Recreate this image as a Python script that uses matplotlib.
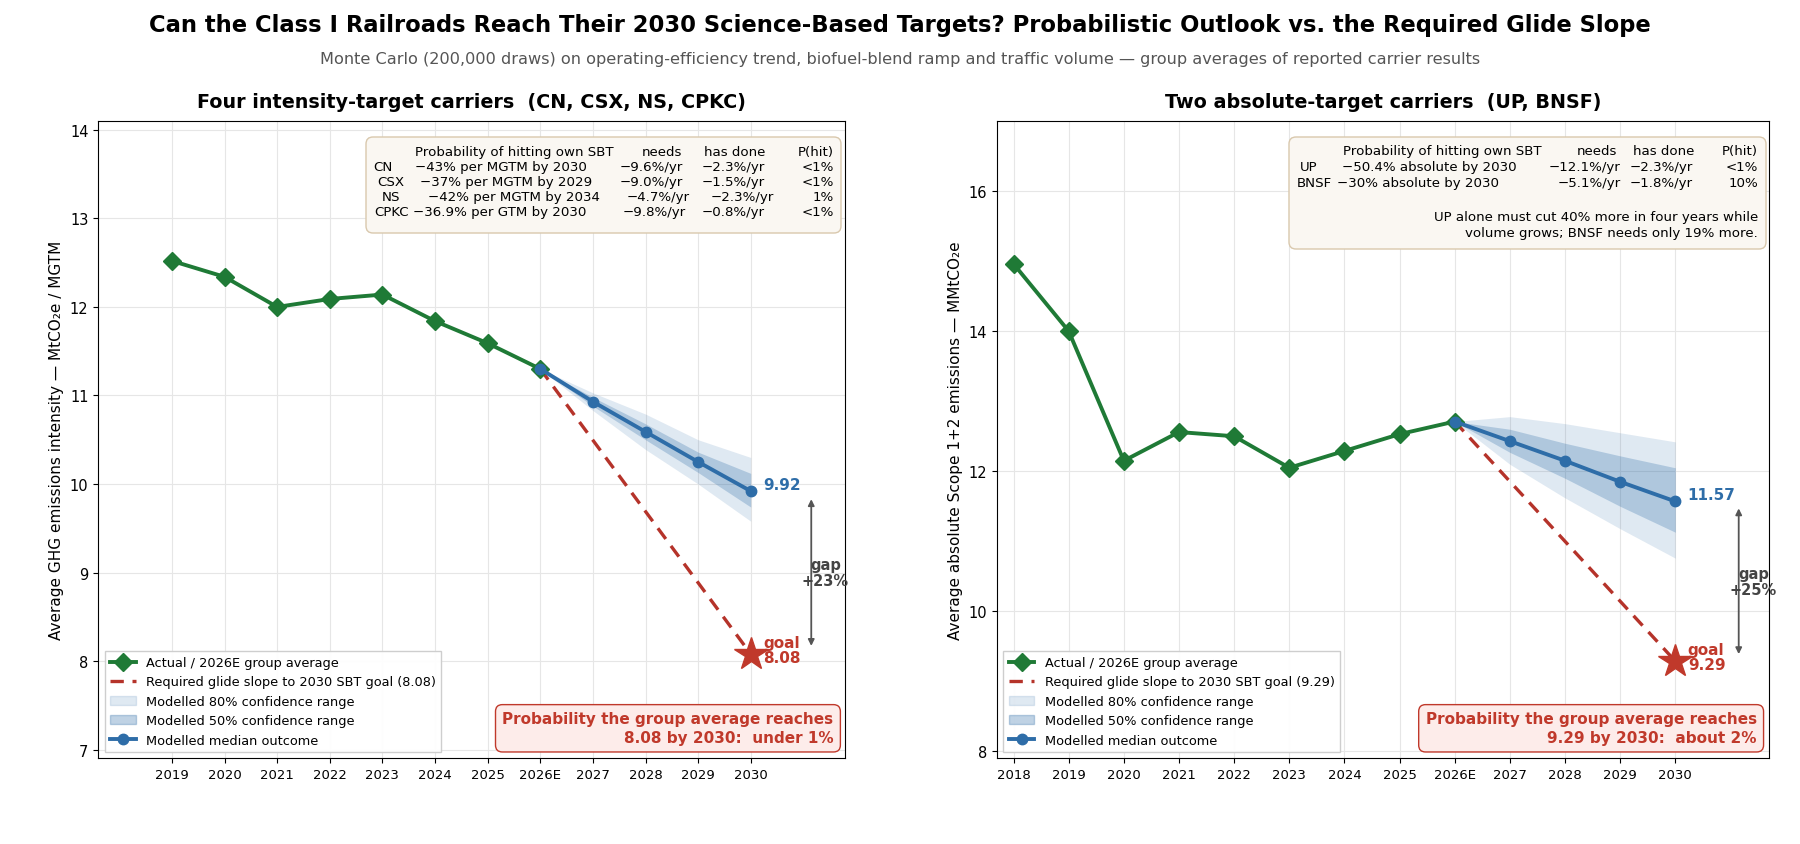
import matplotlib
matplotlib.use("Agg")
import matplotlib.pyplot as plt
from matplotlib.lines import Line2D
from matplotlib.patches import Patch, FancyBboxPatch
from matplotlib.transforms import IdentityTransform

# ---------------- data ----------------
L_years = [2019, 2020, 2021, 2022, 2023, 2024, 2025, 2026]
L_actual = [12.52, 12.34, 12.00, 12.09, 12.14, 11.84, 11.59, 11.30]
L_fyears = [2026, 2027, 2028, 2029, 2030]
L_median = [11.30, 10.93, 10.59, 10.25, 9.92]
L_p10 = [11.30, 10.83, 10.39, 10.00, 9.58]
L_p25 = [11.30, 10.88, 10.50, 10.13, 9.74]
L_p75 = [11.30, 10.98, 10.68, 10.36, 10.12]
L_p90 = [11.30, 11.03, 10.79, 10.50, 10.30]
L_goal = 8.08
L_ticks = [2019, 2020, 2021, 2022, 2023, 2024, 2025, 2026, 2027, 2028, 2029, 2030]
L_ticklabels = ["2019", "2020", "2021", "2022", "2023", "2024", "2025", "2026E",
                "2027", "2028", "2029", "2030"]

R_years = [2018, 2019, 2020, 2021, 2022, 2023, 2024, 2025, 2026]
R_actual = [14.96, 14.00, 12.15, 12.56, 12.50, 12.05, 12.29, 12.53, 12.71]
R_fyears = [2026, 2027, 2028, 2029, 2030]
R_median = [12.71, 12.43, 12.15, 11.85, 11.57]
R_p10 = [12.71, 12.10, 11.62, 11.18, 10.76]
R_p25 = [12.71, 12.27, 11.90, 11.50, 11.13]
R_p75 = [12.71, 12.60, 12.40, 12.22, 12.05]
R_p90 = [12.71, 12.78, 12.68, 12.55, 12.42]
R_goal = 9.29
R_ticks = [2018] + L_ticks
R_ticklabels = ["2018"] + L_ticklabels

TABLE_HEAD = ["Probability of hitting own SBT", "needs", "has done", "P(hit)"]
L_carriers = ["CN", "CSX", "NS", "CPKC"]
L_targets = ["−43% per MGTM by 2030", "−37% per MGTM by 2029",
             "−42% per MGTM by 2034", "−36.9% per GTM by 2030"]
L_needs = ["−9.6%/yr", "−9.0%/yr", "−4.7%/yr", "−9.8%/yr"]
L_done = ["−2.3%/yr", "−1.5%/yr", "−2.3%/yr", "−0.8%/yr"]
L_phit = ["<1%", "<1%", "1%", "<1%"]

R_carriers = ["UP", "BNSF"]
R_targets = ["−50.4% absolute by 2030", "−30% absolute by 2030"]
R_needs = ["−12.1%/yr", "−5.1%/yr"]
R_done = ["−2.3%/yr", "−1.8%/yr"]
R_phit = ["<1%", "10%"]
R_note = ["UP alone must cut 40% more in four years while",
          "volume grows; BNSF needs only 19% more."]

L_gap = "+23%"
R_gap = "+25%"
L_prob = "Probability the group average reaches\n8.08 by 2030:  under 1%"
R_prob = "Probability the group average reaches\n9.29 by 2030:  about 2%"

# ---------------- style ----------------
GREEN = "#1f7a36"
BLUE = "#2e6da8"
RED = "#b5332a"
STAR = "#c0392b"
GAPC = "#444444"
W, H = 1800, 845

fig = plt.figure(figsize=(18, 8.45), dpi=100)
fig.text(0.5, 0.970, "Can the Class I Railroads Reach Their 2030 Science-Based Targets? "
         "Probabilistic Outlook vs. the Required Glide Slope",
         ha="center", va="center", fontsize=16.3, fontweight="bold")
fig.text(0.5, 0.929, "Monte Carlo (200,000 draws) on operating-efficiency trend, biofuel-blend ramp "
         "and traffic volume — group averages of reported carrier results",
         ha="center", va="center", fontsize=11.6, color="#555555")

ax1 = fig.add_axes([0.0546, 0.1012, 0.4151, 0.7544])
ax2 = fig.add_axes([0.5539, 0.1012, 0.4289, 0.7544])

IDT = IdentityTransform()


def ptext(ax, x, y, s, ha, **kw):
    # x, y in output-image pixels measured from the top-left corner
    ax.text(x, H - y, s, transform=IDT, ha=ha, va="center", fontsize=9.6, zorder=9, **kw)


def info_box(ax, box, head_x, rows_y, cols, rows):
    x0, y0, x1, y1 = box
    ax.add_patch(FancyBboxPatch((x0, H - y1), x1 - x0, y1 - y0, transform=IDT,
                                boxstyle="round,pad=0,rounding_size=7",
                                fc="#faf7f2", ec="#d9c8ad", lw=1.0, zorder=8,
                                clip_on=False))
    hx, hneeds, hdone, hp = head_x
    ptext(ax, hx, rows_y[0], TABLE_HEAD[0], "left")
    ptext(ax, hneeds, rows_y[0], TABLE_HEAD[1], "right")
    ptext(ax, hdone, rows_y[0], TABLE_HEAD[2], "right")
    ptext(ax, hp, rows_y[0], TABLE_HEAD[3], "right")
    for i, vals in enumerate(rows):
        y = rows_y[i + 1]
        for v, (xpos, ha) in zip(vals, cols[i]):
            ptext(ax, xpos, y, v, ha)


def draw(ax, years, actual, fyears, med, p10, p25, p75, p90, goal, ticks, ticklabels,
         ylim, xlim, ylabel, title, gap, prob, yticks):
    ax.fill_between(fyears, p10, p90, color=BLUE, alpha=0.15, lw=0, zorder=2)
    ax.fill_between(fyears, p25, p75, color=BLUE, alpha=0.27, lw=0, zorder=2)
    ax.plot(years, actual, color=GREEN, lw=2.8, marker="D", ms=9, zorder=4)
    ax.plot([fyears[0], fyears[-1]], [med[0], goal], color=RED, lw=2.4,
            linestyle=(0, (4, 2.6)), zorder=3)
    ax.plot(fyears, med, color=BLUE, lw=2.8, marker="o", ms=7.5, zorder=5)
    ax.plot([fyears[-1]], [goal], marker="*", ms=25, color=STAR, zorder=6, lw=0)

    ax.annotate(f"{med[-1]:.2f}", (fyears[-1], med[-1]), xytext=(9, 5),
                textcoords="offset points", ha="left", va="center",
                fontsize=11, fontweight="bold", color=BLUE)
    ax.annotate(f"goal\n{goal:.2f}", (fyears[-1], goal), xytext=(9, 3),
                textcoords="offset points", ha="left", va="center",
                fontsize=11, fontweight="bold", color=STAR, linespacing=1.0)
    xa = fyears[-1] + 1.15
    ax.annotate("", xy=(xa, goal + 0.06), xytext=(xa, med[-1] - 0.06),
                arrowprops=dict(arrowstyle="<|-|>", color="#555555", lw=1.3,
                                mutation_scale=9))
    ax.text(xa + 0.27, (goal + med[-1]) / 2, "gap\n" + gap, ha="center", va="center",
            fontsize=10.5, fontweight="bold", color=GAPC, linespacing=1.1)

    ax.text(0.984, 0.021, prob, transform=ax.transAxes, ha="right", va="bottom",
            fontsize=11, fontweight="bold", color=STAR, linespacing=1.3, zorder=7,
            bbox=dict(boxstyle="round,pad=0.45", fc="#fdecea", ec=STAR, lw=1.0))

    handles = [
        Line2D([], [], color=GREEN, lw=2.8, marker="D", ms=9),
        Line2D([], [], color=RED, lw=2.4, linestyle=(0, (4, 2.6))),
        Patch(facecolor=BLUE, alpha=0.15, edgecolor=BLUE),
        Patch(facecolor=BLUE, alpha=0.3, edgecolor=BLUE),
        Line2D([], [], color=BLUE, lw=2.8, marker="o", ms=7.5),
    ]
    labels = ["Actual / 2026E group average",
              f"Required glide slope to 2030 SBT goal ({goal:.2f})",
              "Modelled 80% confidence range",
              "Modelled 50% confidence range",
              "Modelled median outcome"]
    leg = ax.legend(handles, labels, loc="lower left", fontsize=9.3, framealpha=0.95,
                    edgecolor="#cccccc", fancybox=False)
    leg.set_zorder(8)

    ax.set_xlim(*xlim)
    ax.set_ylim(*ylim)
    ax.set_xticks(ticks)
    ax.set_xticklabels(ticklabels)
    ax.set_yticks(yticks)
    ax.tick_params(axis="x", labelsize=9.5)
    ax.tick_params(axis="y", labelsize=10.5)
    ax.grid(True, color="#e6e6e6", lw=0.8, zorder=0)
    ax.set_axisbelow(True)
    ax.set_ylabel(ylabel, fontsize=11)
    ax.set_title(title, fontsize=13.8, fontweight="bold", pad=10)


draw(ax1, L_years, L_actual, L_fyears, L_median, L_p10, L_p25, L_p75, L_p90, L_goal,
     L_ticks, L_ticklabels, (6.9, 14.1), (2017.6, 2031.8),
     "Average GHG emissions intensity — MtCO₂e / MGTM",
     "Four intensity-target carriers  (CN, CSX, NS, CPKC)",
     L_gap, L_prob, [7, 8, 9, 10, 11, 12, 13, 14])
draw(ax2, R_years, R_actual, R_fyears, R_median, R_p10, R_p25, R_p75, R_p90, R_goal,
     R_ticks, R_ticklabels, (7.9, 17.0), (2017.7, 2031.7),
     "Average absolute Scope 1+2 emissions — MMtCO₂e",
     "Two absolute-target carriers  (UP, BNSF)",
     R_gap, R_prob, [8, 10, 12, 14, 16])

# ---- info tables (positions in output pixels) ----
L_name_x = [373, 377, 382, 374]
L_tgt_x = [415, 420, 428, 413]
L_need_x = [683, 683, 690, 686]
L_done_x = [765, 765, 774, 765]
L_cols = [[(L_name_x[i], "left"), (L_tgt_x[i], "left"), (L_need_x[i], "right"),
           (L_done_x[i], "right"), (834, "right")] for i in range(4)]
L_rowvals = [list(r) for r in zip(L_carriers, L_targets, L_needs, L_done, L_phit)]
info_box(ax1, (366, 138, 841, 234), (415, 682, 765, 834),
         [153, 168, 183, 198, 213], L_cols, L_rowvals)

R_name_x = [1300, 1297]
R_tgt_x = [1342, 1337]
R_cols = [[(R_name_x[i], "left"), (R_tgt_x[i], "left"), (1621, "right"),
           (1693, "right"), (1758, "right")] for i in range(2)]
R_rowvals = [list(r) for r in zip(R_carriers, R_targets, R_needs, R_done, R_phit)]
info_box(ax2, (1289, 138, 1766, 250), (1343, 1617, 1694, 1758),
         [152, 168, 184], R_cols, R_rowvals)
ptext(ax2, 1758, 218, R_note[0], "right")
ptext(ax2, 1758, 234, R_note[1], "right")

fig.savefig("out.png", dpi=100)
